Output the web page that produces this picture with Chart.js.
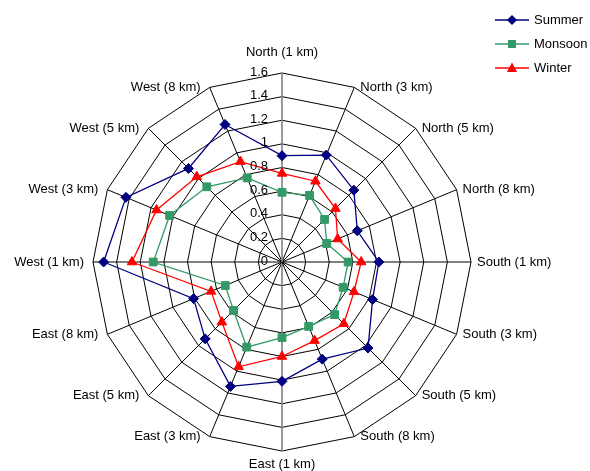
<!DOCTYPE html>
<html>
<head>
<meta charset="utf-8">
<script src="https://cdn.jsdelivr.net/npm/chart.js@4.4.1/dist/chart.umd.min.js"></script>
<style>
  body { margin: 0; background: #fff; }
  #radar { display: block; }
</style>
</head>
<body>
<canvas id="radar" width="590" height="471"></canvas>
<script>
var locais = ['North (1 km)', 'North (3 km)', 'North (5 km)', 'North (8 km)',
              'South (1 km)', 'South (3 km)', 'South (5 km)', 'South (8 km)',
              'East (1 km)', 'East (3 km)', 'East (5 km)', 'East (8 km)',
              'West (1 km)', 'West (3 km)', 'West (5 km)', 'West (8 km)'];
var summer  = [0.90, 0.98, 0.86, 0.69, 0.82, 0.83, 1.03, 0.89, 1.01, 1.14, 0.92, 0.81, 1.51, 1.43, 1.12, 1.26];
var monsoon = [0.59, 0.61, 0.51, 0.41, 0.56, 0.56, 0.63, 0.59, 0.64, 0.78, 0.58, 0.52, 1.09, 1.03, 0.90, 0.77];
var winter  = [0.75, 0.74, 0.64, 0.51, 0.67, 0.66, 0.74, 0.72, 0.80, 0.96, 0.72, 0.65, 1.27, 1.15, 1.02, 0.92];
var tickValues = [0, 0.2, 0.4, 0.6, 0.8, 1, 1.2, 1.4, 1.6];
var tickLabels = ['0', '0.2', '0.4', '0.6', '0.8', '1', '1.2', '1.4', '1.6'];

var fonte = '13px "Liberation Sans", Arial, sans-serif';

function marcador(ctx, tipo, cor, x, y) {
    ctx.save();
    ctx.fillStyle = cor;
    ctx.beginPath();
    if (tipo == 'rectRot') {
        ctx.moveTo(x, y - 5); ctx.lineTo(x + 5, y); ctx.lineTo(x, y + 5); ctx.lineTo(x - 5, y);
    } else if (tipo == 'rect') {
        ctx.rect(x - 4, y - 4, 8, 8);
    } else {
        ctx.moveTo(x, y - 5.5); ctx.lineTo(x + 5, y + 4); ctx.lineTo(x - 5, y + 4);
    }
    ctx.closePath();
    ctx.fill();
    ctx.restore();
}

// rotulos, ticks e legenda desenhados a partir da escala
var textos = {
    id: 'textos',
    afterDraw: function (chart) {
        var ctx = chart.ctx;
        var escala = chart.scales.r;
        ctx.save();
        ctx.font = fonte;
        ctx.fillStyle = '#000';

        // ticks
        ctx.textAlign = 'right';
        ctx.textBaseline = 'middle';
        for (var t = 0; t < tickValues.length; t++) {
            var d = escala.getDistanceFromCenterForValue(tickValues[t]);
            ctx.fillText(tickLabels[t], escala.xCenter - 14, escala.yCenter - d - 1);
        }

        // rotulos das categorias
        var raio = escala.drawingArea;
        for (var i = 0; i < locais.length; i++) {
            var p = escala.getPointPosition(i, raio);
            var ang = escala.getIndexAngle(i);
            var s = Math.sin(ang);
            var x = p.x, y = p.y;
            if (Math.abs(s) < 0.01) {
                ctx.textAlign = 'center';
                y = Math.cos(ang) > 0 ? p.y - 21 : p.y + 13;
            } else if (s > 0) {
                ctx.textAlign = 'left';
                x = p.x + 6;
            } else {
                ctx.textAlign = 'right';
                x = p.x - 9;
            }
            ctx.fillText(locais[i], x, y);
        }

        // legenda
        ctx.textAlign = 'left';
        var ys = [20, 44, 68];
        chart.data.datasets.forEach(function (ds, k) {
            ctx.strokeStyle = ds.borderColor;
            ctx.lineWidth = 1.3;
            ctx.beginPath();
            ctx.moveTo(495, ys[k]);
            ctx.lineTo(529, ys[k]);
            ctx.stroke();
            marcador(ctx, ds.pointStyle, ds.borderColor, 512, ys[k]);
            ctx.fillStyle = '#000';
            ctx.fillText(ds.label, 534, ys[k]);
        });
        ctx.restore();
    }
};

var ctx = document.getElementById('radar').getContext('2d');
var grafico = new Chart(ctx, {
    type: 'radar',
    data: {
        labels: locais,
        datasets: [
            { label: 'Summer', data: summer, borderColor: '#000080', backgroundColor: '#000080',
              pointStyle: 'rectRot', pointRadius: 5, borderWidth: 1.3, fill: false },
            { label: 'Monsoon', data: monsoon, borderColor: '#339966', backgroundColor: '#339966',
              pointStyle: 'rect', pointRadius: 5.5, borderWidth: 1.3, fill: false },
            { label: 'Winter', data: winter, borderColor: '#FF0000', backgroundColor: '#FF0000',
              pointStyle: 'triangle', pointRadius: 5.5, borderWidth: 1.3, fill: false }
        ]
    },
    options: {
        responsive: false,
        animation: false,
        layout: { padding: { left: 93, right: 119, top: 73, bottom: 20 } },
        elements: { line: { tension: 0 }, point: { pointBorderWidth: 1 } },
        plugins: { legend: { display: false }, tooltip: { enabled: false } },
        scales: {
            r: {
                min: 0,
                max: 1.6,
                ticks: { display: false, stepSize: 0.2 },
                pointLabels: { display: false },
                grid: { color: '#000', lineWidth: 1, circular: false },
                angleLines: {
                    color: function (c) { return (c.index == 0 || c.index == 8) ? '#808080' : '#000'; },
                    lineWidth: function (c) { return (c.index == 0 || c.index == 8) ? 1.6 : 1; }
                }
            }
        }
    },
    plugins: [textos]
});
</script>
</body>
</html>
